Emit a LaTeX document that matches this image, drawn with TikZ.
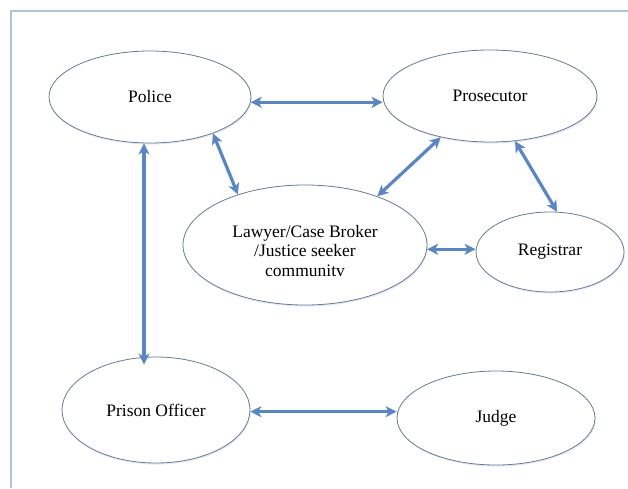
\documentclass[tikz,border=0pt]{standalone}
\usepackage{fontspec}
\setmainfont{Liberation Serif}
\usetikzlibrary{shapes.geometric,arrows.meta,shadows}
\definecolor{framec}{HTML}{B3C2D9}
\definecolor{arrowc}{HTML}{5A87C4}
\definecolor{ellc}{HTML}{6A7A94}
\tikzset{
  actor/.style={ellipse, draw=ellc, line width=0.8pt, fill=white, inner sep=0pt,
    align=center, font=\fontsize{17.5}{19.5}\selectfont,
    drop shadow={shadow xshift=0.8pt, shadow yshift=-1.6pt, opacity=0.25, fill=arrowc!60}},
  link/.style={draw=arrowc, line width=3.2pt,
    {Stealth[length=11pt,width=11pt,inset=3pt]}-{Stealth[length=11pt,width=11pt,inset=3pt]}}
}
\begin{document}
\begin{tikzpicture}[x=1pt,y=-1pt]
\useasboundingbox (0,0) rectangle (628,488);
\fill[white] (0,0) rectangle (628,488);
\draw[framec, line width=2pt] (11,488) -- (11,11) -- (628,11);

\node[actor, minimum width=202pt, minimum height=92pt] (police) at (150,97) {Police};
\node[actor, minimum width=214pt, minimum height=92pt] (prosecutor) at (490,96) {Prosecutor};
\node[actor, minimum width=244pt, minimum height=120pt] (lawyer) at (305,245) {\rule{0pt}{24pt}Lawyer/Case Broker\\/Justice seeker\\communitv};
\node[actor, minimum width=148pt, minimum height=80pt] (registrar) at (550,252) {Registrar};
\node[actor, minimum width=188pt, minimum height=106pt] (prison) at (156,410) {Prison Officer};
\node[actor, minimum width=198pt, minimum height=94pt] (judge) at (496,418) {Judge};

\draw[link] (police.-3) -- (police.-3 -| prosecutor.west);
\draw[link] (police.-30) -- (lawyer.143);
\draw[link] (lawyer.34) -- (prosecutor.-140);
\draw[link] (prosecutor.-61) -- (registrar.80);
\draw[link] (lawyer.-2) -- (lawyer.-2 -| registrar.west);
\coordinate (pp) at ([xshift=-6pt]police.south);
\draw[link] (pp) -- ([yshift=-8pt]pp |- prison.north);
\draw[link] (prison.-1) -- (prison.-1 -| judge.west);
\end{tikzpicture}
\end{document}
